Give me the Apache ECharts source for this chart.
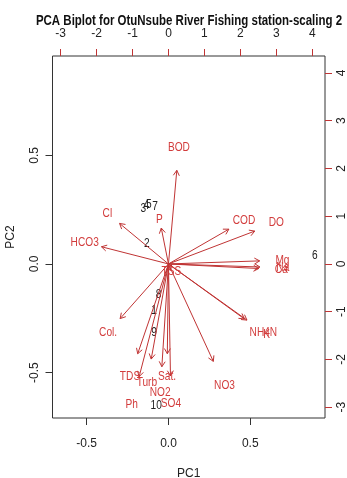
<!DOCTYPE html>
<html>
<head>
<meta charset="utf-8">
<script src="https://cdn.jsdelivr.net/npm/echarts@6/dist/echarts.min.js"></script>
<style>
html,body{margin:0;padding:0;background:#fff;}
#chart{width:347px;height:478px;}
</style>
</head>
<body>
<div id="chart"></div>
<script>
// ---- data ----
const titleText = 'PCA Biplot for OtuNsube River Fishing station-scaling 2';
// variable loadings (top / right axes scale)
const varNames = ['BOD','Cl','HCO3','P','COD','DO','Mg','Ca','Na','NH4N','K','TSS','Col.','TDS','Turb','Sat.','NO2','Ph','SO4','NO3'];
const varPC1 = [0.29,-1.70,-2.33,-0.25,2.10,3.00,3.17,3.14,3.18,2.64,2.73,0.08,-1.68,-1.07,-0.60,-0.04,-0.23,-1.02,0.07,1.56];
const varPC2 = [2.45,1.06,0.45,0.94,0.91,0.86,0.08,-0.12,-0.08,-1.44,-1.47,-0.16,-1.43,-2.35,-2.49,-2.35,-2.69,-2.95,-2.93,-2.55];
// sample scores (bottom / left axes scale)
const sampleNames = ['1','2','3','4','5','6','7','8','9','10'];
const samplePC1 = [-0.088,-0.133,-0.153,-0.135,-0.120,0.894,-0.082,-0.061,-0.088,-0.075];
const samplePC2 = [-0.213,0.093,0.257,0.271,0.276,0.038,0.266,-0.141,-0.314,-0.650];
// axes
const scoreMin = -0.709, scoreMax = 0.957;
const loadRatio = 4.55;
const scoreTicks = [-0.5, 0, 0.5];
const loadTicks = [-3, -2, -1, 0, 1, 2, 3, 4];

const FONT = "'Liberation Sans', Arial, sans-serif";
const RED_LINE = '#c03434';
const RED_TEXT = '#d23c3c';
const AX_TXT = '#222';
const SQUEEZE = 0.78;

const chart = echarts.init(document.getElementById('chart'), null, {renderer: 'canvas'});

function arrowRender(params, api) {
  const x = api.value(0), y = api.value(1);
  const p0 = api.coord([0, 0]);
  const p1 = api.coord([x * 0.8, y * 0.8]);
  const ang = Math.atan2(p1[1] - p0[1], p1[0] - p0[0]);
  const L = 6, a = Math.PI / 6;
  const h1 = [p1[0] - L * Math.cos(ang - a), p1[1] - L * Math.sin(ang - a)];
  const h2 = [p1[0] - L * Math.cos(ang + a), p1[1] - L * Math.sin(ang + a)];
  return {
    type: 'group',
    children: [
      {type: 'line', shape: {x1: p0[0], y1: p0[1], x2: p1[0], y2: p1[1]}, style: {stroke: RED_LINE, lineWidth: 1}},
      {type: 'polyline', shape: {points: [h1, p1, h2]}, style: {stroke: RED_LINE, lineWidth: 1, fill: null}}
    ]
  };
}
function textRender(names, color) {
  return function (params, api) {
    const p = api.coord([api.value(0), api.value(1)]);
    return {
      type: 'text', x: p[0], y: p[1], scaleX: SQUEEZE,
      style: {text: names[params.dataIndex], fill: color, font: '13px ' + FONT, align: 'center', verticalAlign: 'middle'}
    };
  };
}

const varData = varNames.map((n, i) => [varPC1[i], varPC2[i]]);
const sampleData = sampleNames.map((n, i) => [samplePC1[i], samplePC2[i]]);

const baseAxisLabel = {color: AX_TXT, fontSize: 12, fontFamily: FONT};
const noLine = {show: false, onZero: false};

chart.setOption({
  animation: false,
  backgroundColor: '#fff',
  grid: {left: 52.5, right: 22, top: 56, bottom: 60, show: true, borderColor: '#333', borderWidth: 1, containLabel: false, outerBoundsMode: 'none'},
  graphic: [{
    type: 'text', x: 189, y: 21, scaleX: 0.82,
    style: {text: titleText, font: 'bold 14px ' + FONT, fill: '#111', align: 'center', verticalAlign: 'middle'}
  }],
  xAxis: [
    {type: 'value', position: 'bottom', min: scoreMin, max: scoreMax,
     name: 'PC1', nameLocation: 'middle', nameGap: 50, nameTextStyle: {color: AX_TXT, fontSize: 12, fontFamily: FONT},
     axisLine: noLine, splitLine: {show: false},
     axisTick: {show: true, length: 7, customValues: scoreTicks, lineStyle: {color: '#333'}},
     axisLabel: Object.assign({customValues: scoreTicks, margin: 20, formatter: v => v.toFixed(1)}, baseAxisLabel)},
    {type: 'value', position: 'top', min: scoreMin * loadRatio, max: scoreMax * loadRatio,
     axisLine: noLine, splitLine: {show: false},
     axisTick: {show: true, length: 7, customValues: loadTicks, lineStyle: {color: RED_LINE}},
     axisLabel: Object.assign({customValues: loadTicks, margin: 16, formatter: v => String(Math.round(v))}, baseAxisLabel)}
  ],
  yAxis: [
    {type: 'value', position: 'left', min: scoreMin, max: scoreMax,
     name: 'PC2', nameLocation: 'middle', nameGap: 36, nameRotate: 90, nameTextStyle: {color: AX_TXT, fontSize: 12, fontFamily: FONT},
     axisLine: noLine, splitLine: {show: false},
     axisTick: {show: true, length: 7, customValues: scoreTicks, lineStyle: {color: '#333'}},
     axisLabel: Object.assign({customValues: scoreTicks, margin: 12, rotate: 90, formatter: v => v.toFixed(1)}, baseAxisLabel)},
    {type: 'value', position: 'right', min: scoreMin * loadRatio, max: scoreMax * loadRatio,
     axisLine: noLine, splitLine: {show: false},
     axisTick: {show: true, length: 7, customValues: loadTicks, lineStyle: {color: RED_LINE}},
     axisLabel: Object.assign({customValues: loadTicks, margin: 11, rotate: 90, formatter: v => String(Math.round(v))}, baseAxisLabel)}
  ],
  series: [
    {type: 'custom', name: 'samples', xAxisIndex: 0, yAxisIndex: 0, data: sampleData,
     renderItem: textRender(sampleNames, '#222'), encode: {x: 0, y: 1}, clip: false},
    {type: 'custom', name: 'arrows', xAxisIndex: 1, yAxisIndex: 1, data: varData,
     renderItem: arrowRender, encode: {x: 0, y: 1}, clip: false},
    {type: 'custom', name: 'varlabels', xAxisIndex: 1, yAxisIndex: 1, data: varData,
     renderItem: textRender(varNames, RED_TEXT), encode: {x: 0, y: 1}, clip: false}
  ]
});
</script>
</body>
</html>
